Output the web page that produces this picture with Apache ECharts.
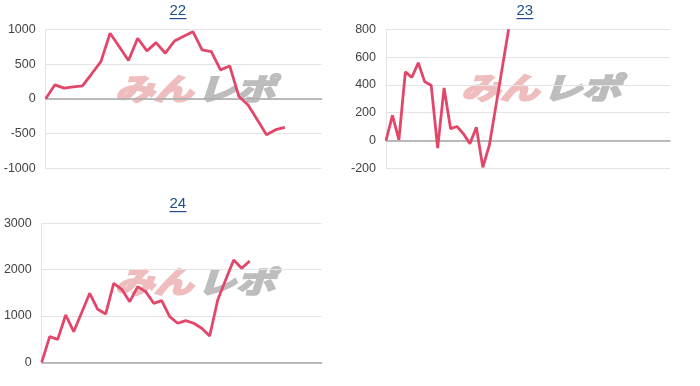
<!DOCTYPE html>
<html>
<head>
<meta charset="utf-8">
<style>
  html, body { margin: 0; padding: 0; background: #fff; }
  #chart { width: 700px; height: 386px; }
</style>
<script src="https://cdn.jsdelivr.net/npm/echarts@6/dist/echarts.min.js"></script>
</head>
<body>
<div id="chart"></div>
<script>
// ---- data ----
const titles = ['22', '23', '24'];
const slots22 = 31, slots23 = 45, slots24 = 36;
const values22 = [0, 201, 153, 170, 186, 360, 535, 943, 750, 550, 871, 689, 808, 656, 832, 900, 966, 703, 679, 416, 473, 33, -90, -300, -517, -445, -412];
const values23 = [0, 181, 5, 494, 453, 559, 422, 398, -55, 378, 85, 101, 48, -24, 96, -193, -36, 240, 520, 800];
const values24 = [0, 553, 496, 1021, 661, 1075, 1489, 1144, 1043, 1705, 1576, 1309, 1633, 1525, 1273, 1331, 985, 842, 899, 842, 734, 568, 1345, 1780, 2209, 2029, 2187];
const yTicks22 = { min: -1000, max: 1000, interval: 500 };
const yTicks23 = { min: -200, max: 800, interval: 200 };
const yTicks24 = { min: 0, max: 3000, interval: 1000 };

function cats(n) { return Array.from({ length: n }, (_, i) => String(i + 1)); }

const chart = echarts.init(document.getElementById('chart'), null, { renderer: 'canvas' });

const LINE = '#e2476a';
const GRIDC = '#e4e4e4';
const ZEROC = '#a8a8a8';
const TITLEC = '#1b4f8d';

const grids = [
  { left: 45.7, top: 29.3, width: 276, height: 139 },
  { left: 386, top: 29.3, width: 284, height: 139 },
  { left: 41.7, top: 223.3, width: 280, height: 139 }
];
const yT = [yTicks22, yTicks23, yTicks24];
const slots = [slots22, slots23, slots24];
const vals = [values22, values23, values24];
const titlePos = [{ x: 178, y: 12 }, { x: 525, y: 12 }, { x: 178, y: 205 }];
const wmPos = [{ x: 195, y: 89 }, { x: 541, y: 88 }, { x: 195, y: 282 }];

const graphics = [];
titlePos.forEach((p, i) => {
  graphics.push({
    type: 'text', left: p.x - 8.5, top: p.y - 9, z: 10,
    style: { text: titles[i], font: '15px "Liberation Sans", Arial, sans-serif', fill: TITLEC }
  });
  graphics.push({
    type: 'rect', z: 10,
    shape: { x: p.x - 8.5, y: p.y + 6, width: 17, height: 1.2 },
    style: { fill: TITLEC }
  });
});
wmPos.forEach((p) => {
  graphics.push({
    type: 'group', x: p.x, y: p.y, z: 0, silent: true,
    children: [
      { type: 'text', x: -41, y: 0, scaleX: 1.3,
        style: { text: 'みん', font: 'italic bold 30px "Noto Sans CJK JP"', fill: '#efbdbd', stroke: '#efbdbd', lineWidth: 2.2, align: 'center', verticalAlign: 'middle' } },
      { type: 'text', x: 41, y: 0, scaleX: 1.3,
        style: { text: 'レポ', font: 'italic bold 30px "Noto Sans CJK JP"', fill: '#bdbdbd', stroke: '#bdbdbd', lineWidth: 2.2, align: 'center', verticalAlign: 'middle' } }
    ]
  });
});

const option = {
  animation: false,
  backgroundColor: '#fff',
  grid: grids.map(g => Object.assign({ containLabel: false }, g)),
  xAxis: grids.map((g, i) => ({
    type: 'category', gridIndex: i, data: cats(slots[i]), boundaryGap: false,
    axisLine: { show: true, onZero: true, lineStyle: { color: ZEROC, width: 1.5 } },
    axisTick: { show: false }, axisLabel: { show: false }, splitLine: { show: false }
  })),
  yAxis: grids.map((g, i) => ({
    type: 'value', gridIndex: i, min: yT[i].min, max: yT[i].max, interval: yT[i].interval,
    axisLine: { show: true, lineStyle: { color: GRIDC, width: 1 } },
    axisTick: { show: false },
    axisLabel: { color: '#444', fontSize: 12.5, margin: 10, fontFamily: '"Liberation Sans", Arial, sans-serif',
      formatter: v => String(v) },
    splitLine: { show: true, lineStyle: { color: GRIDC, width: 1 } }
  })),
  series: vals.map((v, i) => ({
    type: 'line', xAxisIndex: i, yAxisIndex: i, data: v, showSymbol: false, symbol: 'none',
    lineStyle: { color: LINE, width: 2.8 }, clip: true, z: 5
  })),
  graphic: graphics
};
chart.setOption(option);
</script>
</body>
</html>
